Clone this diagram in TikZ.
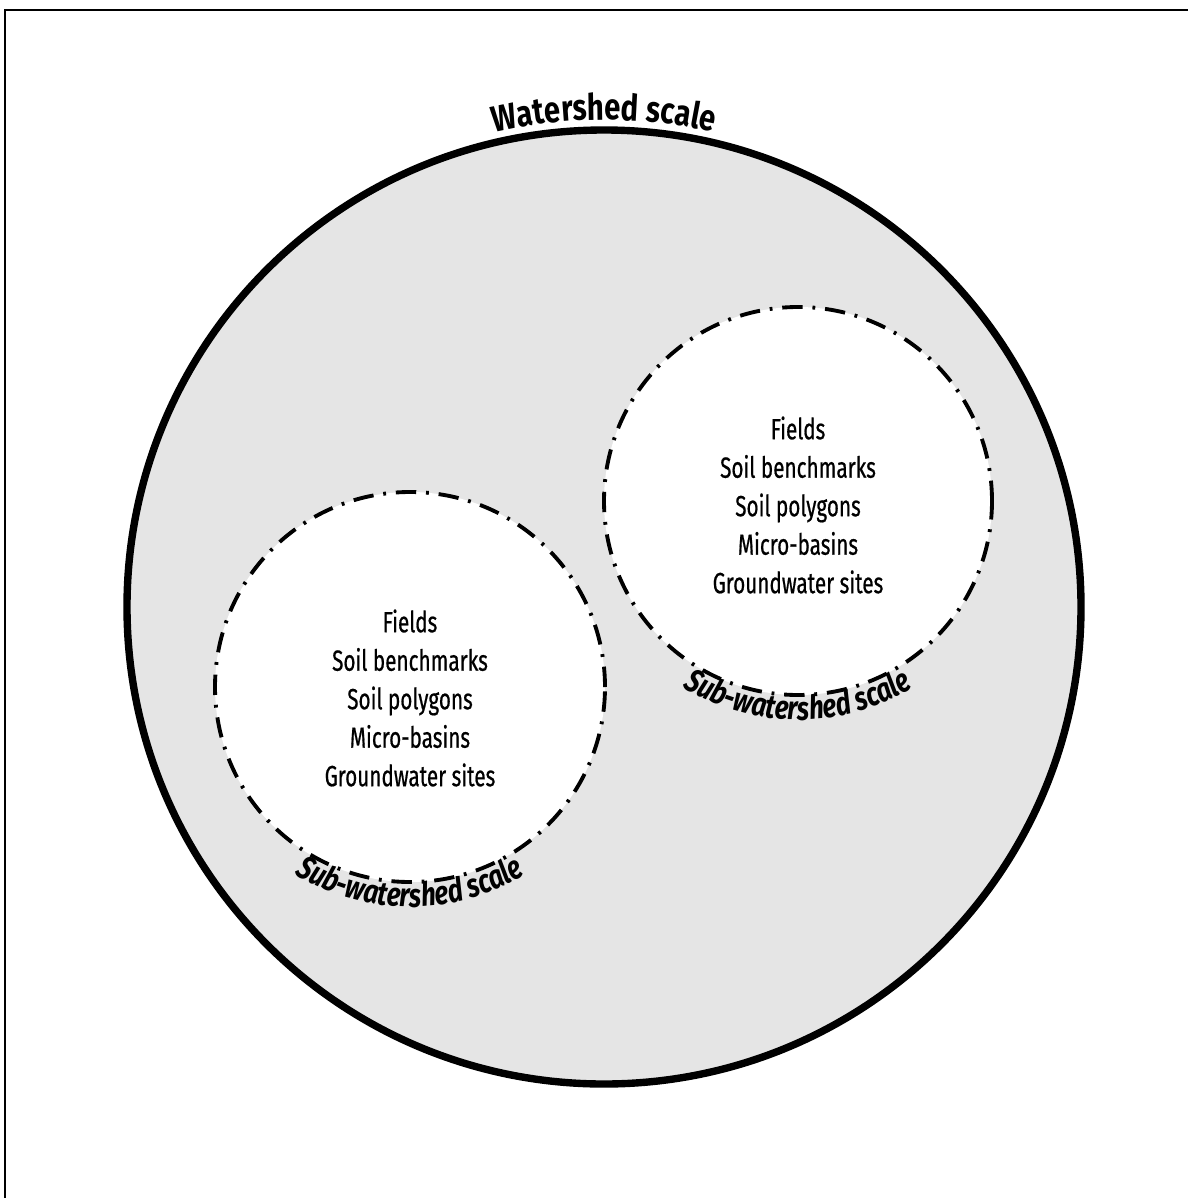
\documentclass[tikz,border=0pt]{standalone}
\usepackage{fontspec}
\usetikzlibrary{decorations.text}
\newfontfamily\listfont[FakeStretch=0.71,FakeBold=0.6]{Fira Sans}
\newfontfamily\scalefont[FakeStretch=0.80]{Fira Sans Bold}
\newfontfamily\subscalefont[FakeStretch=0.78]{Fira Sans Bold Italic}
\definecolor{shed}{RGB}{229,229,229}

\tikzset{
  bigring/.style={draw=black,fill=shed,line width=2.1pt},
  subring/.style={draw=black,fill=white,line width=1.1pt,
    dash pattern=on 5.8pt off 2.8pt on 0.8pt off 2.8pt},
  sitelist/.style={align=center,font=\listfont\fontsize{8.3}{10.95}\selectfont,inner sep=0pt},
  arclabel/.style={decorate,decoration={text along path,text align=center}}
}

\begin{document}
\begin{tikzpicture}
  \useasboundingbox (0,0) rectangle (11.88,-11.98);
  % frame on two sides
  \draw[line width=0.6pt] (0.05,-11.98) -- (0.05,-0.10) -- (11.88,-0.10);

  % watershed and the two sub-watersheds
  \coordinate (wc) at (6.04,-6.07);
  \coordinate (rc) at (7.98,-5.01);
  \coordinate (lc) at (4.10,-6.87);
  \draw[bigring] (wc) circle (4.77);
  \draw[subring] (rc) circle (1.94);
  \draw[subring] (lc) circle (1.95);

  % curved labels
  \path[arclabel,decoration={text={|\scalefont\fontsize{10.4}{12}\selectfont|Watershed scale}}]
    ([shift={(150:4.87)}]wc) arc (150:30:4.87);
  \path[arclabel,decoration={text={|\subscalefont\fontsize{9.4}{11}\selectfont|Sub-watershed scale}}]
    ([shift={(200:2.19)}]rc) arc (200:340:2.19);
  \path[arclabel,decoration={text={|\subscalefont\fontsize{9.4}{11}\selectfont|Sub-watershed scale}}]
    ([shift={(200:2.20)}]lc) arc (200:340:2.20);

  % site lists
  \node[sitelist] (rlist) at (7.98,-5.05) {Fields\\Soil benchmarks\\Soil polygons\\Micro-basins\\Groundwater sites};
  \node[sitelist] (llist) at (4.10,-6.98) {Fields\\Soil benchmarks\\Soil polygons\\Micro-basins\\Groundwater sites};
\end{tikzpicture}
\end{document}
